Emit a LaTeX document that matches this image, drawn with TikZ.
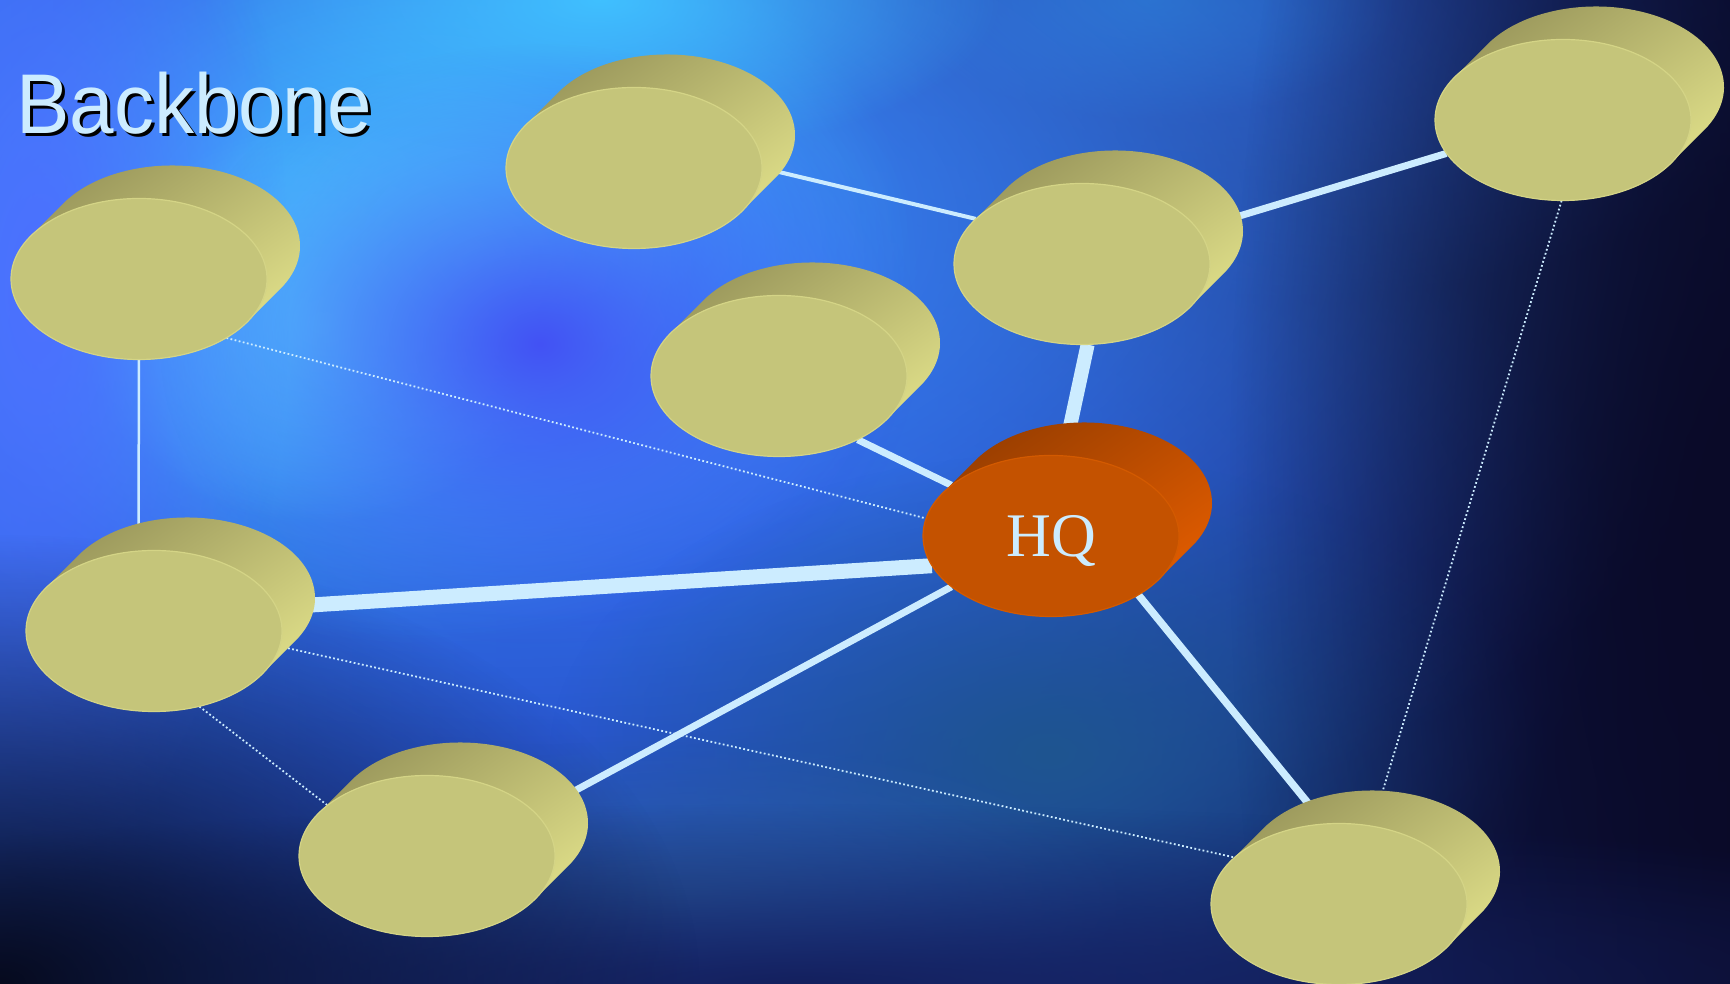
\documentclass[tikz,border=0pt]{standalone}
\usepackage{fontspec}
\usepackage{graphicx}
\usetikzlibrary{shapes.geometric,fadings}
\newfontfamily\titlefont{Liberation Sans}
\newfontfamily\hqfont{Liberation Serif}

% palette
\definecolor{linkc}{HTML}{CCECFF}
\definecolor{facey}{HTML}{C5C57A}
\definecolor{rimy}{HTML}{D4D486}
\definecolor{sidedk}{HTML}{969359}
\definecolor{sidelt}{HTML}{E4E48C}
\definecolor{faceo}{HTML}{C45200}
\definecolor{rimo}{HTML}{D35A00}
\definecolor{sideodk}{HTML}{943C00}
\definecolor{sideolt}{HTML}{E65E00}
% sky colours
\definecolor{skybase}{HTML}{1A2A86}
\definecolor{skyleft}{HTML}{2D5FE0}
\definecolor{skymid}{HTML}{1D3696}
\definecolor{skyright}{HTML}{0A0C2C}
\definecolor{skyA}{HTML}{203F9E}
\definecolor{skyB}{HTML}{2060B0}
\definecolor{skyC}{HTML}{2244C8}
\definecolor{skyD}{HTML}{3D8DFF}
\definecolor{skyE}{HTML}{45C5FF}
\definecolor{skyF}{HTML}{50E0FF}
\definecolor{skyG}{HTML}{55D0FF}
\definecolor{skyH}{HTML}{40C0FF}
\definecolor{skyI}{HTML}{4D6FFF}
\definecolor{skyJ}{HTML}{4252F4}
\definecolor{skyK}{HTML}{1E5590}
\definecolor{skyL}{HTML}{2B5FA8}
\definecolor{skyM}{HTML}{0A0A28}
\definecolor{skyN}{HTML}{14205E}
\definecolor{skyO}{HTML}{060A1E}

% soft round blob used to build the cloudy sky
\tikzfading[name=blob, inner color=transparent!0, outer color=transparent!100]

\pgfdeclarelayer{sky}
\pgfdeclarelayer{wires}
\pgfsetlayers{sky,wires,main}

\tikzset{
  disknode/.style={ellipse, minimum width=256pt, minimum height=161pt,
                   inner sep=0pt, text depth=0pt},
  yside/.style={top color=sidedk, bottom color=sidelt, shading angle=35},
  oside/.style={top color=sideodk, bottom color=sideolt, shading angle=35},
  yface/.style={fill=facey, draw=rimy, line width=1.2pt},
  oface/.style={fill=faceo, draw=rimo, line width=1.2pt},
  wire/.style={draw=linkc, line width=#1},
  dotwire/.style={draw=linkc, line width=1.8pt, dash pattern=on 1.8pt off 2.4pt},
}

% extruded disk: #1 name, #2 centre of the front face, #3 side style, #4 face style, #5 label
\newcommand\netdisk[5]{%
  \shade[#3] #2 ++(147.8:128pt and 80.5pt) -- ++(33,33)
    arc[start angle=147.8, end angle=-32.2, x radius=128pt, y radius=80.5pt]
    -- ++(-33,-33)
    arc[start angle=-32.2, end angle=-212.2, x radius=128pt, y radius=80.5pt] -- cycle;
  \path[#4] #2 ellipse[x radius=128pt, y radius=80.5pt];
  \node[disknode] (#1) at #2 {#5};
}

% cloud blob: #1 colour, #2 centre, #3 x radius, #4 y radius
\newcommand\skyblob[4]{%
  \fill[#1, path fading=blob] #2 ellipse[x radius=#3pt, y radius=#4pt];
}

\begin{document}
\begin{tikzpicture}[x=1pt, y=1pt]
\useasboundingbox (0,0) rectangle (1730,984);

\begin{pgfonlayer}{sky}
  \fill[skybase] (0,0) rectangle (1730,984);
  \shade[left color=skyleft, right color=skyright, middle color=skymid]
    (0,0) rectangle (1730,984);
  \skyblob{skyA}{(1250,980)}{600}{300}
  \skyblob{skyB}{(1150,984)}{250}{120}
  \skyblob{skyC}{(720,420)}{900}{500}
  \skyblob{skyD}{(520,760)}{1300}{700}
  \skyblob{skyE}{(420,720)}{500}{380}
  \skyblob{skyF}{(470,730)}{220}{200}
  \skyblob{skyG}{(320,660)}{240}{200}
  \skyblob{skyH}{(600,984)}{400}{160}
  \skyblob{skyI}{(40,700)}{250}{600}
  \skyblob{skyJ}{(540,640)}{380}{300}
  \skyblob{skyK}{(1050,230)}{500}{300}
  \skyblob{skyL}{(680,90)}{450}{160}
  \skyblob{skyM}{(1730,480)}{500}{1400}
  \skyblob{skyN}{(800,0)}{1400}{180}
  \skyblob{skyO}{(0,0)}{700}{450}
\end{pgfonlayer}

% title with drop shadow
\node[anchor=base west, inner sep=0pt, text=black] (titleshadow) at (19,847)
  {\scalebox{1}[1.06]{\titlefont\fontsize{80}{90}\selectfont Backbone}};
\node[anchor=base west, inner sep=0pt, text=linkc] (title) at (16,850)
  {\scalebox{1}[1.06]{\titlefont\fontsize{80}{90}\selectfont Backbone}};

% sites
\netdisk{d1}{(139,705)}{yside}{yface}{}
\netdisk{d2}{(634,816)}{yside}{yface}{}
\netdisk{d3}{(1082,720)}{yside}{yface}{}
\netdisk{d4}{(1563,864)}{yside}{yface}{}
\netdisk{d5}{(779,608)}{yside}{yface}{}
\netdisk{hq}{(1051,448)}{oside}{oface}{\hqfont\fontsize{62}{62}\selectfont\color{linkc}HQ}
\netdisk{d7}{(154,353)}{yside}{yface}{}
\netdisk{d8}{(427,128)}{yside}{yface}{}
\netdisk{d9}{(1339,80)}{yside}{yface}{}

% links, drawn beneath the disks
\begin{pgfonlayer}{wires}
  \draw[wire=4pt]   (d2.0)   -- (d3.157);
  \draw[wire=7pt]   (d3.17)  -- (d4.196);
  \draw[wire=14pt]  (d3.274) -- (hq.81);
  \draw[wire=7pt]   (d5.321) -- (hq.153);
  \draw[wire=15pt]  (d7.11)  -- (hq.194);
  \draw[wire=7pt]   (d8.22)  -- (hq.207);
  \draw[wire=7.5pt] (hq.326) -- (d9.100);
  \draw[wire=2.5pt] (d1.270) -- (d7.101);
  \draw[dotwire] (d1.326) -- (hq.172);
  \draw[dotwire] (d7.353) -- (d9.156);
  \draw[dotwire] (d7.301) -- (d8.153);
  \draw[dotwire] (d4.269) -- (d9.67);
\end{pgfonlayer}
\end{tikzpicture}
\end{document}
